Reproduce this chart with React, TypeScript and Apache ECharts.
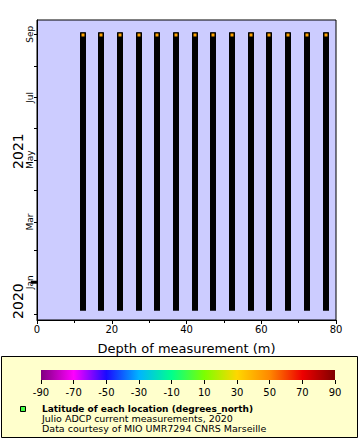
import React, { useEffect, useRef } from "react";
import * as echarts from "echarts";

const FONT = "DejaVu Sans";

// Depths of ADCP bins (m)
const depths = [12.2, 17.2, 22.2, 27.2, 32.2, 37.2, 42.2, 47.2, 52.2, 57.2, 62.2, 67.2, 72.2, 77.2];
const startTime = Date.UTC(2020, 11, 7);
const endTime = Date.UTC(2021, 7, 31);
const latitude = 43.3;

const yMin = Date.UTC(2020, 10, 25);
const yMax = Date.UTC(2021, 8, 15);
const monthNames = ["Jan", "Feb", "Mar", "Apr", "May", "Jun", "Jul", "Aug", "Sep", "Oct", "Nov", "Dec"];
const monthTicks = [
  Date.UTC(2020, 11, 1), Date.UTC(2021, 0, 1), Date.UTC(2021, 1, 1), Date.UTC(2021, 2, 1),
  Date.UTC(2021, 3, 1), Date.UTC(2021, 4, 1), Date.UTC(2021, 5, 1), Date.UTC(2021, 6, 1),
  Date.UTC(2021, 7, 1), Date.UTC(2021, 8, 1),
];
const monthLabels = [
  Date.UTC(2021, 0, 1), Date.UTC(2021, 2, 1), Date.UTC(2021, 4, 1), Date.UTC(2021, 6, 1), Date.UTC(2021, 8, 1),
];
const yearBoundary = Date.UTC(2021, 0, 1);
const yearLabels = ["2020", "2021"];

const xTicks = [0, 20, 40, 60, 80];
const paletteValues = [-90, -70, -50, -30, -10, 10, 30, 50, 70, 90];
const paletteColors = ["#800080", "#ff00ff", "#1a0aff", "#00b4ff", "#00ff8c", "#7cff00", "#ffd700", "#ff8800", "#ee0000", "#800000"];

const legendTitle = "Latitude of each location (degrees_north)";
const legendLines = [
  "Julio ADCP current measurements, 2020",
  "Data courtesy of MIO UMR7294 CNRS Marseille",
];

function colorFor(v: number) {
  for (let i = 0; i < paletteValues.length - 1; i++) {
    if (v >= paletteValues[i] && v <= paletteValues[i + 1]) {
      const t = (v - paletteValues[i]) / (paletteValues[i + 1] - paletteValues[i]);
      const a = echarts.color.parse(paletteColors[i]);
      const b = echarts.color.parse(paletteColors[i + 1]);
      const c = [0, 1, 2].map((k) => Math.round(a[k] + (b[k] - a[k]) * t));
      return `rgb(${c[0]},${c[1]},${c[2]})`;
    }
  }
  return paletteColors[0];
}

export default function App() {
  const ref = useRef<HTMLDivElement>(null);
  useEffect(() => {
    if (!ref.current) return;
    const chart = echarts.init(ref.current, null, { renderer: "svg" });
    const option: any = {
      animation: false,
      backgroundColor: "#ffffff",
      textStyle: { fontFamily: FONT },
      grid: [
        { left: 37, top: 20, width: 299, height: 300, show: true, backgroundColor: "#ccccff", borderColor: "#000", borderWidth: 1 },
        { left: 41, top: 370, width: 294, height: 10, show: false },
      ],
      xAxis: [
        {
          type: "value", gridIndex: 0, min: 0, max: 80, interval: 20,
          axisLine: { show: true, lineStyle: { color: "#000", width: 1 } },
          axisTick: { show: true, length: 4, lineStyle: { color: "#000" } },
          minorTick: { show: true, splitNumber: 2, length: 3, lineStyle: { color: "#000" } },
          splitLine: { show: false },
          axisLabel: { color: "#000", fontSize: 10, fontFamily: FONT, margin: 4, customValues: xTicks },
          name: "Depth of measurement (m)", nameLocation: "middle", nameGap: 22,
          nameTextStyle: { color: "#000", fontSize: 13, fontFamily: FONT },
        },
        {
          type: "value", gridIndex: 1, min: -90, max: 90,
          axisLine: { show: false },
          axisTick: { show: true, length: 4, customValues: paletteValues, lineStyle: { color: "#000" } },
          splitLine: { show: false },
          axisLabel: { color: "#000", fontSize: 10, fontFamily: FONT, margin: 7, customValues: paletteValues },
        },
      ],
      yAxis: [
        {
          type: "value", gridIndex: 0, min: yMin, max: yMax,
          axisLine: { show: true, lineStyle: { color: "#000" } },
          axisTick: { show: true, length: 3, customValues: monthTicks, lineStyle: { color: "#000" } },
          splitLine: { show: false },
          axisLabel: {
            color: "#000", fontSize: 9, fontFamily: FONT, rotate: 90, margin: 3,
            customValues: monthLabels,
            formatter: (v: number) => monthNames[new Date(v).getUTCMonth()],
          },
        },
        { type: "value", gridIndex: 1, min: 0, max: 1, show: false },
      ],
      series: [
        {
          type: "custom", xAxisIndex: 0, yAxisIndex: 0,
          data: depths.map((d) => [d, startTime, endTime]),
          renderItem: (params: any, api: any) => {
            const p1 = api.coord([api.value(0), api.value(1)]);
            const p2 = api.coord([api.value(0), api.value(2)]);
            return {
              type: "rect",
              shape: { x: Math.round(p1[0]) - 3, y: p2[1] - 3, width: 6, height: p1[1] - p2[1] + 6 },
              style: { fill: "#000" },
            };
          },
        },
        {
          type: "custom", xAxisIndex: 0, yAxisIndex: 0,
          data: depths.map((d) => [d, endTime, latitude]),
          renderItem: (params: any, api: any) => {
            const p = api.coord([api.value(0), api.value(1)]);
            return {
              type: "rect",
              shape: { x: Math.round(p[0]) - 2, y: Math.round(p[1]) - 2, width: 4, height: 4 },
              style: { fill: colorFor(api.value(2)), stroke: "#000", lineWidth: 1 },
            };
          },
        },
        {
          type: "custom", xAxisIndex: 0, yAxisIndex: 0, clip: false,
          data: [[0, yearBoundary]],
          renderItem: (params: any, api: any) => {
            const pb = api.coord([0, yearBoundary]);
            const pMin = api.coord([0, yMin]);
            const pMax = api.coord([0, yMax]);
            const mids = [(pMin[1] + pb[1]) / 2, (pb[1] + pMax[1]) / 2];
            return {
              type: "group",
              children: [
                { type: "rect", shape: { x: pb[0] - 6, y: pb[1] - 1.5, width: 6, height: 3 }, style: { fill: "#000" } },
                ...yearLabels.map((t, i) => ({
                  type: "text", x: pb[0] - 19, y: mids[i], rotation: Math.PI / 2,
                  style: { text: t, fill: "#000", font: `14px "${FONT}"`, align: "center", verticalAlign: "middle" },
                })),
              ],
            };
          },
        },
        {
          type: "custom", xAxisIndex: 1, yAxisIndex: 1, clip: false,
          data: [[-90, 90]],
          renderItem: (params: any, api: any) => {
            const a = api.coord([api.value(0), 0]);
            const b = api.coord([api.value(1), 1]);
            return {
              type: "rect",
              shape: { x: a[0], y: b[1], width: b[0] - a[0], height: a[1] - b[1] },
              style: {
                fill: new echarts.graphic.LinearGradient(0, 0, 1, 0,
                  paletteValues.map((v, i) => ({ offset: (v + 90) / 180, color: paletteColors[i] }))),
              },
            };
          },
        },
      ],
      graphic: [
        { type: "rect", z: -10, shape: { x: 1.5, y: 356.5, width: 356, height: 81 }, style: { fill: "#ffffcc", stroke: "#000", lineWidth: 1 } },
        { type: "rect", shape: { x: 20.5, y: 406.5, width: 5, height: 5 }, style: { fill: "#44ff44", stroke: "#000", lineWidth: 1 } },
        {
          type: "text", x: 42, y: 404.5,
          style: {
            text: `{b|${legendTitle}}\n` + legendLines.map((l) => `{n|${l}}`).join("\n"),
            fill: "#000",
            verticalAlign: "top",
            rich: {
              b: { fontFamily: FONT, fontSize: 9, fontWeight: "bold", lineHeight: 9, fill: "#000" },
              n: { fontFamily: FONT, fontSize: 9.5, lineHeight: 10, fill: "#000" },
            },
          },
        },
      ],
    };
    chart.setOption(option);
    return () => chart.dispose();
  }, []);
  return <div ref={ref} style={{ position: "fixed", left: 0, top: 0, width: 360, height: 440 }} />;
}
